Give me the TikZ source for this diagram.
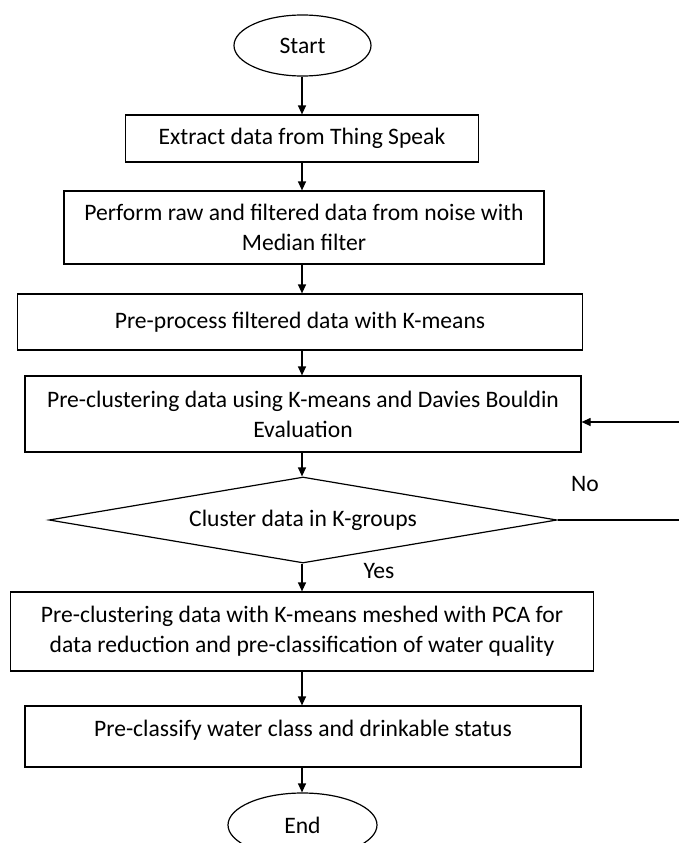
\documentclass[tikz,border=0pt]{standalone}
\usepackage{fontspec}
\setmainfont{Carlito}
\usetikzlibrary{shapes.geometric,arrows.meta,calc}
\begin{document}
\begin{tikzpicture}[x=1pt,y=-1pt,
  every node/.style={font=\fontsize{23.6}{30}\selectfont},
  procbox/.style={draw, line width=1.2pt, rectangle, inner sep=0pt, align=center},
  term/.style={draw, line width=1.2pt, ellipse, inner sep=0pt},
  decide/.style={draw, line width=1.2pt, diamond, inner sep=0pt, shape aspect=5.9},
  flow/.style={line width=1.2pt, -{Triangle[length=9pt,width=8pt]}},
  plain/.style={line width=1.2pt}]
\useasboundingbox (0,0) rectangle (679,843);
\node[term, minimum width=137pt, minimum height=61pt] (start) at (302.5,45.5) {Start};
\node[procbox, minimum width=353pt, minimum height=47pt] (b1) at (302,138.5) {Extract data from Thing Speak};
\node[procbox, minimum width=480pt, minimum height=73pt] (b2) at (304,227.5) {Perform raw and filtered data from noise with\\Median filter};
\node[procbox, minimum width=565pt, minimum height=56pt] (b3) at (300,322) {Pre-process filtered data with K-means};
\node[procbox, minimum width=556pt, minimum height=76pt] (b4) at (303,414) {Pre-clustering data using K-means and Davies Bouldin\\Evaluation};
\node[decide, minimum width=508pt, minimum height=86pt] (d) at (303,520) {Cluster data in K-groups};
\node[procbox, minimum width=582.5pt, minimum height=79pt] (b5) at (302,631.5) {Pre-clustering data with K-means meshed with PCA for\\data reduction and pre-classification of water quality};
\node[procbox, minimum width=556pt, minimum height=61pt,
  label={[yshift=6.5pt]center:Pre-classify water class and drinkable status}] (b6) at (303,736.5) {};
\node[term, minimum width=149pt, minimum height=64pt] (end) at (302.5,825) {End};
\node (no) at (585,484) {No};
\node (yes) at (379,571) {Yes};
\coordinate (loop) at (688,520);
\draw[flow] (start.south -| 302,0) -- (b1.north -| 302,0);
\draw[flow] (b1.south -| 302,0) -- (b2.north -| 302,0);
\draw[flow] (b2.south -| 302,0) -- (b3.north -| 302,0);
\draw[flow] (b3.south -| 302,0) -- (b4.north -| 302,0);
\draw[flow] (b4.south -| 302,0) -- (d.north -| 302,0);
\draw[flow] (d.south -| 302,0) -- (b5.north -| 302,0);
\draw[flow] (b5.south -| 302,0) -- (b6.north -| 302,0);
\draw[flow] (b6.south -| 302,0) -- (end.north -| 302,0);
\draw[flow] (d.east) -- (d.east -| loop) |- ([yshift=-8pt]b4.east);
\end{tikzpicture}
\end{document}
